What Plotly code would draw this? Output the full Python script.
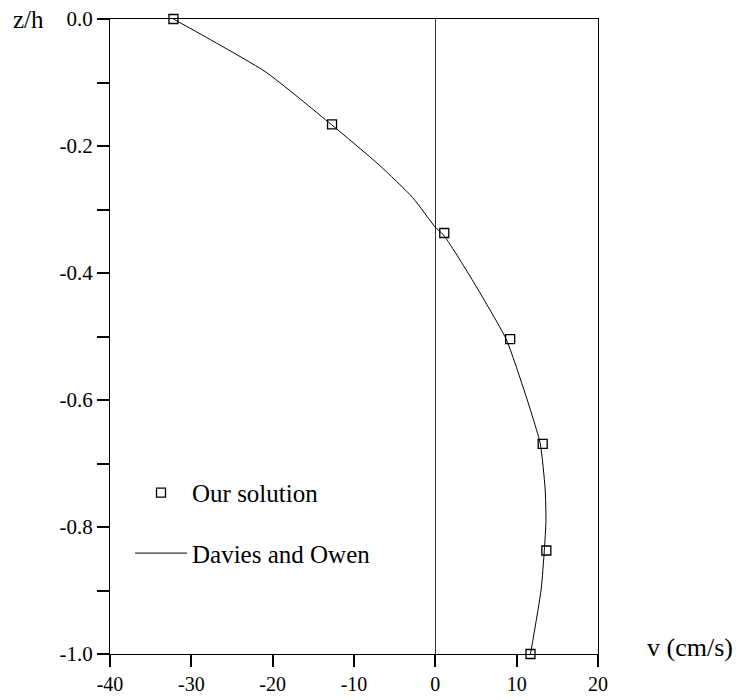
import plotly.graph_objects as go

# Our solution (squares)
sol_v = [-32.2, -12.7, 1.1, 9.2, 13.2, 13.65, 11.7]
sol_z = [0.0, -0.166, -0.337, -0.504, -0.669, -0.837, -1.0]

# Davies and Owen (line)
do_v = [-32.2, -26.9, -20.8, -12.8, -6.9, -2.8, 0.0, 1.0, 4.5, 8.7, 10.3, 11.9, 12.9, 13.5, 13.6, 13.4, 13.0, 11.7]
do_z = [0.0, -0.038, -0.084, -0.166, -0.23, -0.281, -0.328, -0.34, -0.41, -0.504, -0.561, -0.624, -0.669, -0.74, -0.79, -0.837, -0.899, -1.0]

x_ticks = [-40, -30, -20, -10, 0, 10, 20]
x_tick_labels = ["-40", "-30", "-20", "-10", "0", "10", "20"]
y_ticks = [0.0, -0.1, -0.2, -0.3, -0.4, -0.5, -0.6, -0.7, -0.8, -0.9, -1.0]
y_tick_labels = ["0.0", "", "-0.2", "", "-0.4", "", "-0.6", "", "-0.8", "", "-1.0"]

FONT = "Liberation Serif, Times New Roman, serif"

fig = go.Figure()
fig.add_trace(go.Scatter(
    x=sol_v, y=sol_z, mode="markers", name="Our solution",
    marker=dict(symbol="square-open", size=9, color="black", line=dict(width=1.3, color="black")),
    cliponaxis=False, legendgroup="a",
))
fig.add_trace(go.Scatter(
    x=do_v, y=do_z, mode="lines", name="Davies and Owen",
    line=dict(color="black", width=1, shape="spline", smoothing=0.6), legendgroup="b",
))

fig.update_layout(
    width=750, height=700,
    margin=dict(l=110, r=152, t=19, b=46),
    paper_bgcolor="white", plot_bgcolor="white",
    font=dict(family=FONT, color="black", size=20),
    legend=dict(
        x=0.041, y=0.29, xanchor="left", yanchor="top",
        font=dict(family=FONT, size=25, color="black"),
        bgcolor="rgba(0,0,0,0)", traceorder="grouped", tracegroupgap=25,
        itemwidth=52,
    ),
    showlegend=True,
)
fig.update_xaxes(
    range=[-40, 20], tickmode="array", tickvals=x_ticks, ticktext=x_tick_labels,
    ticks="outside", ticklen=12, tickcolor="black", tickwidth=2, automargin=False,
    showline=True, linecolor="black", linewidth=1, mirror=True,
    showgrid=False, zeroline=True, zerolinecolor="#333", zerolinewidth=1,
    tickfont=dict(family=FONT, size=20, color="black"),
)
fig.update_yaxes(
    range=[-1.0, 0.0], tickmode="array", tickvals=y_ticks, ticktext=y_tick_labels,
    ticks="outside", ticklen=12, tickcolor="black", tickwidth=2, automargin=False,
    showline=True, linecolor="black", linewidth=1, mirror=True,
    showgrid=False, zeroline=False,
    tickfont=dict(family=FONT, size=21, color="black"),
)
fig.add_annotation(text="z/h", xref="paper", yref="paper", x=-0.202, y=1.0,
                   xanchor="left", yanchor="middle", showarrow=False,
                   font=dict(family=FONT, size=25, color="black"))
fig.add_annotation(text="v (cm/s)", xref="paper", yref="paper", x=1.096, y=0.011,
                   xanchor="left", yanchor="middle", showarrow=False,
                   font=dict(family=FONT, size=26, color="black"))

fig.write_html("out.html")
